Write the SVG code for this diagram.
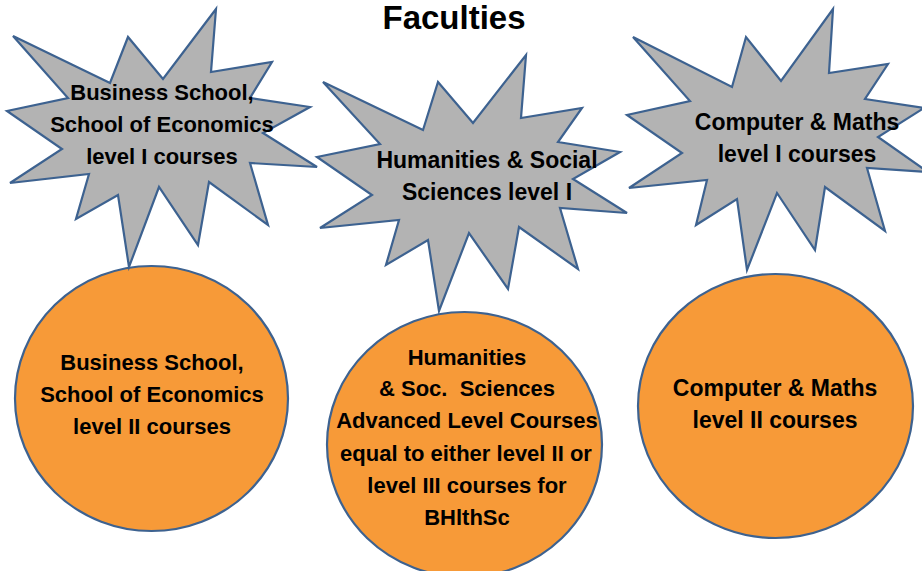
<svg xmlns="http://www.w3.org/2000/svg" width="922" height="571" viewBox="0 0 922 571">
<style>
.star{fill:#B3B3B3;stroke:#3D6290;stroke-width:2.2;stroke-linejoin:miter}
.circ{fill:#F79A38;stroke:#3D6290;stroke-width:2.2}
.t{font-family:"Liberation Sans",Arial,sans-serif;font-weight:bold;font-size:22px;fill:#000;text-anchor:middle;white-space:pre}
.w{font-size:23px}
.title{font-family:"Liberation Sans",Arial,sans-serif;font-weight:bold;font-size:33px;fill:#000;text-anchor:middle}
</style>
<rect width="922" height="571" fill="#fff"/>
<text class="title" x="454" y="29">Faculties</text>
<g id="connectors"/>
<g id="circle-business">
<ellipse class="circ" cx="151.5" cy="398.5" rx="136.5" ry="132.5"/>
<text class="t" x="152" y="370">Business School,</text>
<text class="t" x="152" y="402">School of Economics</text>
<text class="t" x="152" y="434">level II courses</text>
</g>
<g id="circle-humanities">
<ellipse class="circ" cx="464.5" cy="444.5" rx="137.5" ry="132.5"/>
<text class="t" x="467" y="365">Humanities</text>
<text class="t" x="467" y="396">&amp; Soc.  Sciences</text>
<text class="t" x="467" y="428">Advanced Level Courses</text>
<text class="t" x="466" y="461">equal to either level II or</text>
<text class="t" x="467" y="493">level III courses for</text>
<text class="t" x="467" y="525">BHlthSc</text>
</g>
<g id="circle-computer">
<ellipse class="circ" cx="775.5" cy="406" rx="137.5" ry="132"/>
<text class="t w" x="775" y="396">Computer &amp; Maths</text>
<text class="t w" x="775" y="428">level II courses</text>
</g>
<g id="star-business">
<polygon class="star" points="13,36 110,83 128,37 163,79 216,9 211,72 272,62 250,98 310,107 263,133 317,167 250,163 268,225 209,182 198,245 159,187 129,267 118,195 76,219 89,174 10,183 62,149 7,111 68,98"/>
<text class="t" x="162" y="100">Business School,</text>
<text class="t" x="162" y="132">School of Economics</text>
<text class="t" x="162" y="164">level I courses</text>
</g>
<g id="star-humanities">
<polygon class="star" points="323,82 423,130 438,82 473,123 526,55 521,118 582,108 558,142 620,152 573,179 627,213 560,208 578,269 519,227 508,289 469,233 439,311 428,240 386,265 399,220 320,228 372,195 317,157 380,144"/>
<text class="t w" x="487" y="168">Humanities &amp; Social</text>
<text class="t w" x="487" y="200">Sciences level I</text>
</g>
<g id="star-computer">
<polygon class="star" points="633,37 732,87 746,37 781,81 833,9 829,73 888,64 865,99 924,108 878,137 928,172 867,168 885,231 825,187 815,250 777,193 747,270 737,199 696,225 707,180 629,188 682,153 627,115 690,101"/>
<text class="t w" x="797" y="130">Computer &amp; Maths</text>
<text class="t w" x="797" y="162">level I courses</text>
</g>
</svg>
